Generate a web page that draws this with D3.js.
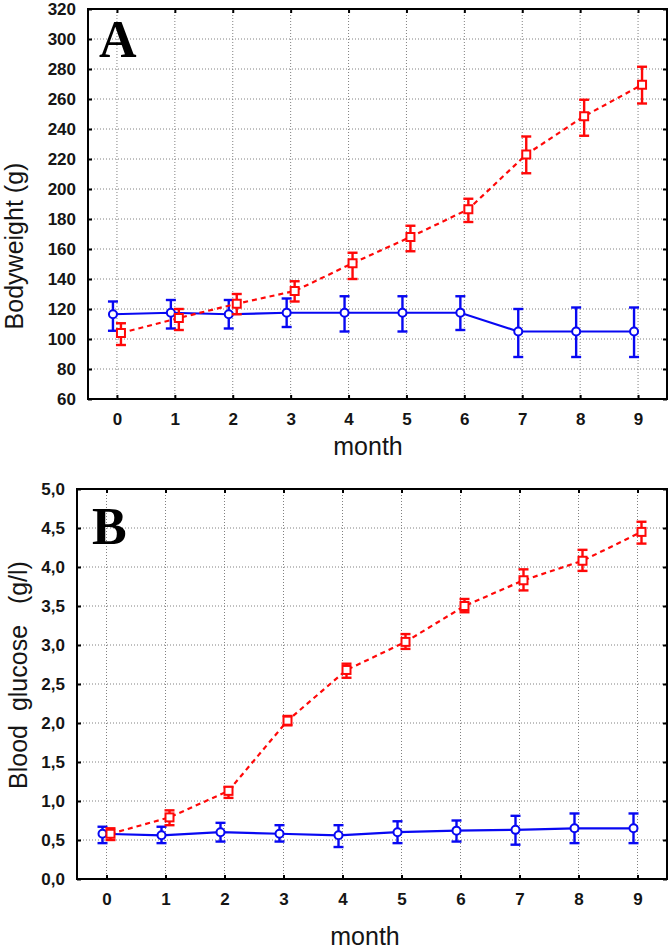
<!DOCTYPE html>
<html><head><meta charset="utf-8">
<script src="https://cdn.jsdelivr.net/npm/d3@7"></script>
<style>
html,body{margin:0;padding:0;background:#fff;}
svg{display:block;}
</style></head>
<body>
<svg id="chart" width="669" height="949"></svg>
<script>
// ---------- DATA ----------
const months = [0,1,2,3,4,5,6,7,8,9];

// Panel A: body weight (g)
const bwTicks = [60,80,100,120,140,160,180,200,220,240,260,280,300,320];
const bwControl   = [116.5,117.5,116.5,117.5,117.5,117.5,117.5,105,105,105];
const bwControlLo = [105.5,107,107,108,105,105,106,88,88,88];
const bwControlHi = [125,126,126,127,128.5,128.5,128.5,120,121,121];
const bwDiabetic   = [104,114,123.5,132,150.5,168,186.5,223,248.5,269.5];
const bwDiabeticLo = [96,106,116.5,125,140,158.5,178,210.5,235.5,257];
const bwDiabeticHi = [110.5,120,130,138.5,157.5,175.5,193.5,235,259.5,281.5];

// Panel B: blood glucose (g/l)
const gluTicks = [0,0.5,1,1.5,2,2.5,3,3.5,4,4.5,5];
const gluControl   = [0.58,0.56,0.60,0.58,0.56,0.60,0.62,0.63,0.65,0.65];
const gluControlLo = [0.46,0.46,0.48,0.48,0.41,0.46,0.48,0.44,0.46,0.46];
const gluControlHi = [0.67,0.67,0.72,0.69,0.69,0.74,0.75,0.81,0.84,0.84];
const gluDiabetic   = [0.58,0.79,1.13,2.03,2.68,3.04,3.50,3.83,4.08,4.45];
const gluDiabeticLo = [0.50,0.69,1.04,1.97,2.58,2.95,3.42,3.70,3.95,4.30];
const gluDiabeticHi = [0.65,0.88,1.18,2.09,2.76,3.14,3.59,3.97,4.22,4.58];

// ---------- DRAW ----------
const svg = d3.select("#chart");
const BLUE = "#0808f2", RED = "#ff0808";
const SANS = "'Liberation Sans',Arial,sans-serif";
const SERIF = "'Liberation Serif','Times New Roman',serif";

function panel(cfg){
  const g = svg.append("g");
  const x = d3.scaleLinear().domain([-0.5,9.5]).range([cfg.left, cfg.right]);
  const y = d3.scaleLinear().domain(cfg.domain).range([cfg.bottom, cfg.top]);

  // grid
  g.append("g").selectAll("line").data(cfg.ticks.slice(1,-1)).join("line")
    .attr("x1",cfg.left).attr("x2",cfg.right)
    .attr("y1",d=>y(d)).attr("y2",d=>y(d))
    .attr("stroke","#808080").attr("stroke-width",1).attr("stroke-dasharray","1,2");
  g.append("g").selectAll("line").data(months).join("line")
    .attr("y1",cfg.top).attr("y2",cfg.bottom)
    .attr("x1",d=>x(d)).attr("x2",d=>x(d))
    .attr("stroke","#808080").attr("stroke-width",1).attr("stroke-dasharray","1,2");

  // axes with inward ticks
  const axL = d3.axisLeft(y).tickValues(cfg.ticks).tickSize(-4).tickPadding(12).tickFormat(cfg.fmt);
  const axR = d3.axisRight(y).tickValues(cfg.ticks).tickSize(-4).tickFormat("");
  const axB = d3.axisBottom(x).tickValues(months).tickSize(-4).tickPadding(14).tickFormat(d3.format("d"));
  const axT = d3.axisTop(x).tickValues(months).tickSize(-4).tickFormat("");
  const gl = g.append("g").attr("transform",`translate(${cfg.left},0)`).call(axL);
  const gr = g.append("g").attr("transform",`translate(${cfg.right},0)`).call(axR);
  const gb = g.append("g").attr("transform",`translate(0,${cfg.bottom})`).call(axB);
  const gt = g.append("g").attr("transform",`translate(0,${cfg.top})`).call(axT);
  [gl,gr,gb,gt].forEach(a=>{
    a.select(".domain").remove();
    a.selectAll(".tick line").attr("stroke","#000").attr("stroke-width",2);
    a.selectAll("text").style("font-size","17px").style("font-weight","bold")
      .style("font-family",SANS).attr("fill","#151515");
  });
  gb.selectAll("text").attr("dy","0.71em");

  // frame
  g.append("rect").attr("x",cfg.left).attr("y",cfg.top)
    .attr("width",cfg.right-cfg.left).attr("height",cfg.bottom-cfg.top)
    .attr("fill","none").attr("stroke","#000").attr("stroke-width",2);

  // series
  function series(vals, lo, hi, color, dx, dashed, shape){
    const sg = g.append("g");
    const line = d3.line().x((d,i)=>x(months[i])+dx).y(d=>y(d));
    sg.append("path").attr("d",line(vals)).attr("fill","none")
      .attr("stroke",color).attr("stroke-width",2.2)
      .attr("stroke-dasharray",dashed?"5,4":null);
    const eb = sg.append("g").selectAll("g").data(vals).join("g");
    eb.append("line").attr("x1",(d,i)=>x(months[i])+dx).attr("x2",(d,i)=>x(months[i])+dx)
      .attr("y1",(d,i)=>y(lo[i])).attr("y2",(d,i)=>y(hi[i]))
      .attr("stroke",color).attr("stroke-width",2.4);
    [lo,hi].forEach(arr=>{
      eb.append("line").attr("x1",(d,i)=>x(months[i])+dx-5).attr("x2",(d,i)=>x(months[i])+dx+5)
        .attr("y1",(d,i)=>y(arr[i])).attr("y2",(d,i)=>y(arr[i]))
        .attr("stroke",color).attr("stroke-width",2.4);
    });
    if(shape==="square"){
      eb.append("rect").attr("x",(d,i)=>x(months[i])+dx-4).attr("y",d=>y(d)-4)
        .attr("width",8).attr("height",8).attr("fill","#fff").attr("stroke",color).attr("stroke-width",2);
    } else {
      eb.append("circle").attr("cx",(d,i)=>x(months[i])+dx).attr("cy",d=>y(d)).attr("r",4)
        .attr("fill","#fff").attr("stroke",color).attr("stroke-width",2);
    }
  }
  series(cfg.ctl, cfg.ctlLo, cfg.ctlHi, BLUE, -4, false, "circle");
  series(cfg.dia, cfg.diaLo, cfg.diaHi, RED, 4, true, "square");

  // panel letter
  g.append("text").attr("x",cfg.left+cfg.letterDx).attr("y",cfg.top+cfg.letterDy)
    .style("font-family",SERIF).style("font-weight","bold").style("font-size","52px")
    .attr("fill","#000").text(cfg.letter);

  // x title
  g.append("text").attr("x",cfg.xTitleX).attr("y",cfg.xTitleY).attr("text-anchor","middle")
    .style("font-family",SANS).style("font-size","25px").attr("fill","#151515").text("month");
  // y title
  g.append("text").attr("transform",`translate(${cfg.yTitleX},${cfg.yTitleY}) rotate(-90)`)
    .attr("text-anchor","middle").style("font-family",SANS).style("font-size","25px")
    .attr("fill","#151515").style("white-space","pre").text(cfg.yTitle);
}

const commaFmt = d => d3.format(".1f")(d).replace(".",",");

panel({left:88,right:667,top:9,bottom:399,domain:[60,320],ticks:bwTicks,fmt:d3.format("d"),
  ctl:bwControl,ctlLo:bwControlLo,ctlHi:bwControlHi,
  dia:bwDiabetic,diaLo:bwDiabeticLo,diaHi:bwDiabeticHi,
  letter:"A",letterDx:11,letterDy:48,xTitleX:368,xTitleY:455,
  yTitle:"Bodyweight (g)",yTitleX:23,yTitleY:246});

panel({left:77,right:667,top:489,bottom:879,domain:[0,5],ticks:gluTicks,fmt:commaFmt,
  ctl:gluControl,ctlLo:gluControlLo,ctlHi:gluControlHi,
  dia:gluDiabetic,diaLo:gluDiabeticLo,diaHi:gluDiabeticHi,
  letter:"B",letterDx:15,letterDy:55,xTitleX:365,xTitleY:945,
  yTitle:"Blood  glucose   (g/l)",yTitleX:27,yTitleY:675});
</script>
</body></html>
